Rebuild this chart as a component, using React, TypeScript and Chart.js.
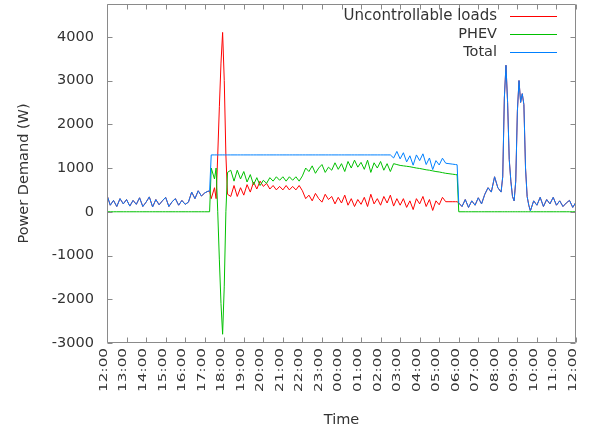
import React, { useEffect, useRef } from "react";
import { Chart, registerables } from "chart.js";

Chart.register(...registerables);

const FONT = "DejaVu Sans";
const TEXT_COLOR = "#333333";
const FRAME_COLOR = "#8a8a8a";

// Sample times (12:00 one day to 12:00 the next)
const sampleTimes: string[] = [
  "12:00", "12:10", "12:20", "12:30", "12:40", "12:50",
  "13:00", "13:10", "13:20", "13:30", "13:40", "13:50",
  "14:00", "14:10", "14:20", "14:30", "14:40", "14:50",
  "15:00", "15:10", "15:20", "15:30", "15:40", "15:50",
  "16:00", "16:10", "16:20", "16:30", "16:40", "16:50",
  "17:00", "17:10", "17:15", "17:20", "17:30", "17:35", "17:40", "17:45", "17:50", "17:55",
  "18:00", "18:05", "18:10", "18:20", "18:30", "18:40", "18:50",
  "19:00", "19:10", "19:20", "19:30", "19:40", "19:50",
  "20:00", "20:10", "20:20", "20:30", "20:40", "20:50",
  "21:00", "21:10", "21:20", "21:30", "21:40", "21:50",
  "22:00", "22:10", "22:20", "22:30", "22:40", "22:50",
  "23:00", "23:10", "23:20", "23:30", "23:40", "23:50",
  "00:00", "00:10", "00:20", "00:30", "00:40", "00:50",
  "01:00", "01:10", "01:20", "01:30", "01:40", "01:50",
  "02:00", "02:10", "02:20", "02:30", "02:40", "02:50",
  "03:00", "03:10", "03:20", "03:30", "03:40", "03:50",
  "04:00", "04:10", "04:20", "04:30", "04:40", "04:50",
  "05:00", "05:10", "05:20", "05:30", "05:40", "05:50", "05:55",
  "06:00", "06:10", "06:20", "06:30", "06:40", "06:50",
  "07:00", "07:10", "07:20", "07:30", "07:40", "07:50",
  "08:00", "08:10", "08:15", "08:20", "08:25", "08:30", "08:35", "08:40", "08:45", "08:50", "08:55",
  "09:00", "09:05", "09:10", "09:15", "09:20", "09:25", "09:30", "09:35", "09:40", "09:50",
  "10:00", "10:10", "10:20", "10:30", "10:40", "10:50",
  "11:00", "11:10", "11:20", "11:30", "11:40", "11:50",
  "12:00",
];

// Uncontrollable loads (W)
const uncontrollableLoads: number[] = [
  380, 150, 260, 120, 300, 180,
  280, 130, 260, 170, 320, 120,
  220, 340, 110, 280, 160, 250,
  330, 120, 230, 300, 150, 260,
  170, 220, 450, 300, 480, 360,
  430, 470, 470, 300, 550, 300, 1300, 2400, 3400, 4100,
  3000, 1300, 400, 350, 600, 350, 550,
  380, 620, 450, 680, 520, 700,
  580, 650, 520, 600, 500, 580,
  500, 600, 500, 580, 500, 600,
  480, 300, 380, 250, 420, 300,
  220, 400, 280, 350, 180, 330,
  200, 380, 150, 300, 120, 280,
  170, 330, 120, 400, 180, 300,
  150, 350, 200, 380, 130, 300,
  150, 300, 100, 250, 50, 300,
  180, 350, 120, 280, 30, 250,
  160, 330, 230, 230, 230, 230, 230,
  200, 120, 280, 100, 250, 150,
  320, 180, 400, 550, 450, 800,
  550, 450, 800, 2600, 3350, 2500, 1200, 700, 350, 250, 700,
  2300, 3000, 2500, 2700, 2450, 1000, 350, 150, 20, 250,
  150, 330, 120, 280, 180, 330,
  150, 250, 120, 200, 260, 100,
  220,
];

// PHEV charging demand (W)
const phevDemand: number[] = [
  0, 0, 0, 0, 0, 0,
  0, 0, 0, 0, 0, 0,
  0, 0, 0, 0, 0, 0,
  0, 0, 0, 0, 0, 0,
  0, 0, 0, 0, 0, 0,
  0, 0, 0, 1000, 750, 1000, 0, -1100, -2100, -2800,
  -1700, 0, 900, 950, 700, 950, 750,
  920, 680, 850, 620, 780, 600,
  720, 650, 780, 700, 800, 720,
  800, 700, 800, 720, 800, 700,
  820, 1000, 920, 1050, 880, 1000,
  1080, 900, 1020, 950, 1120, 970,
  1100, 920, 1150, 1000, 1180, 1020,
  1130, 970, 1180, 900, 1120, 1000,
  1150, 950, 1100, 920, 1100, 1080,
  1060, 1050, 1040, 1030, 1015, 1000,
  990, 975, 960, 950, 935, 920,
  910, 895, 880, 870, 860, 850, 845,
  0, 0, 0, 0, 0, 0,
  0, 0, 0, 0, 0, 0,
  0, 0, 0, 0, 0, 0, 0, 0, 0, 0, 0,
  0, 0, 0, 0, 0, 0, 0, 0, 0, 0,
  0, 0, 0, 0, 0, 0,
  0, 0, 0, 0, 0, 0,
  0,
];

// Total demand (W)
const totalDemand: number[] = [
  380, 150, 260, 120, 300, 180,
  280, 130, 260, 170, 320, 120,
  220, 340, 110, 280, 160, 250,
  330, 120, 230, 300, 150, 260,
  170, 220, 450, 300, 480, 360,
  430, 470, 470, 1300, 1300, 1300, 1300, 1300, 1300, 1300,
  1300, 1300, 1300, 1300, 1300, 1300, 1300,
  1300, 1300, 1300, 1300, 1300, 1300,
  1300, 1300, 1300, 1300, 1300, 1300,
  1300, 1300, 1300, 1300, 1300, 1300,
  1300, 1300, 1300, 1300, 1300, 1300,
  1300, 1300, 1300, 1300, 1300, 1300,
  1300, 1300, 1300, 1300, 1300, 1300,
  1300, 1300, 1300, 1300, 1300, 1300,
  1300, 1300, 1300, 1300, 1230, 1380,
  1210, 1350, 1140, 1280, 1065, 1300,
  1170, 1325, 1080, 1230, 965, 1170,
  1070, 1225, 1110, 1100, 1090, 1080, 1075,
  200, 120, 280, 100, 250, 150,
  320, 180, 400, 550, 450, 800,
  550, 450, 800, 2600, 3350, 2500, 1200, 700, 350, 250, 700,
  2300, 3000, 2500, 2700, 2450, 1000, 350, 150, 20, 250,
  150, 330, 120, 280, 180, 330,
  150, 250, 120, 200, 260, 100,
  220,
];

const xTickLabels: string[] = [
  "12:00", "13:00", "14:00", "15:00", "16:00", "17:00", "18:00", "19:00",
  "20:00", "21:00", "22:00", "23:00", "00:00", "01:00", "02:00", "03:00",
  "04:00", "05:00", "06:00", "07:00", "08:00", "09:00", "10:00", "11:00", "12:00",
];
const yTickValues: number[] = [-3000, -2000, -1000, 0, 1000, 2000, 3000, 4000];
const seriesNames: string[] = ["Uncontrollable loads", "PHEV", "Total"];
const seriesColors: string[] = ["#ff0000", "#00c000", "#0080ff"];

function toHours(times: string[]): number[] {
  const out: number[] = [];
  let prev = -1;
  for (const t of times) {
    const [hh, mm] = t.split(":").map(Number);
    let h = (hh * 60 + mm - 720) / 60;
    if (h < 0) h += 24;
    if (h < prev) h += 24;
    out.push(h);
    prev = h;
  }
  return out;
}

const gnuplotPlugin = {
  id: "gnuplotFrame",
  afterDatasetsDraw(chart: any) {
    const { ctx, chartArea: a, scales } = chart;
    const xs = scales.x;
    const ys = scales.y;
    const L = Math.round(a.left) + 0.5;
    const R = Math.round(a.right) - 0.5;
    const T = Math.round(a.top) + 0.5;
    const B = Math.round(a.bottom) - 0.5;
    ctx.save();
    ctx.strokeStyle = FRAME_COLOR;
    ctx.lineWidth = 1;
    ctx.beginPath();
    ctx.rect(L, T, R - L, B - T);
    const tl = 5;
    yTickValues.forEach((v) => {
      const py = Math.round(ys.getPixelForValue(v)) + 0.5;
      ctx.moveTo(L, py);
      ctx.lineTo(L + tl, py);
      ctx.moveTo(R, py);
      ctx.lineTo(R - tl, py);
    });
    xTickLabels.forEach((_, i) => {
      const px = Math.round(xs.getPixelForValue(i)) + 0.5;
      ctx.moveTo(px, B);
      ctx.lineTo(px, B - tl);
      ctx.moveTo(px, T);
      ctx.lineTo(px, T + tl);
    });
    ctx.stroke();
    ctx.restore();
  },
  afterDraw(chart: any) {
    const { ctx, chartArea: a, scales } = chart;
    const xs = scales.x;
    ctx.save();
    // rotated x tick labels
    ctx.fillStyle = TEXT_COLOR;
    ctx.font = `14.5px "${FONT}"`;
    ctx.textAlign = "right";
    ctx.textBaseline = "middle";
    xTickLabels.forEach((lab, i) => {
      const px = xs.getPixelForValue(i) - 3;
      ctx.save();
      ctx.translate(px, a.bottom + 5);
      ctx.rotate(-Math.PI / 2);
      ctx.scale(1.05, 0.78);
      ctx.fillText(lab, 0, 0);
      ctx.restore();
    });
    // legend
    const textRight = 497;
    const lineX0 = 510;
    const lineX1 = 557;
    const rows = [16, 34, 52];
    seriesNames.forEach((name, i) => {
      ctx.fillStyle = TEXT_COLOR;
      ctx.font = `${i === 0 ? 15 : 14.5}px "${FONT}"`;
      ctx.textAlign = "right";
      ctx.textBaseline = "middle";
      ctx.fillText(name, textRight, rows[i]);
      ctx.strokeStyle = seriesColors[i];
      ctx.lineWidth = 1;
      ctx.beginPath();
      ctx.moveTo(lineX0, rows[i] + 0.5);
      ctx.lineTo(lineX1, rows[i] + 0.5);
      ctx.stroke();
    });
    ctx.restore();
  },
};

export default function App() {
  const canvasRef = useRef<HTMLCanvasElement | null>(null);

  useEffect(() => {
    const canvas = canvasRef.current;
    if (!canvas) return;
    const hours = toHours(sampleTimes);
    const series = [uncontrollableLoads, phevDemand, totalDemand];
    const chart = new Chart(canvas, {
      type: "line",
      data: {
        datasets: series.map((arr, k) => ({
          label: seriesNames[k],
          data: hours.map((h, i) => ({ x: h, y: arr[i] })),
          borderColor: seriesColors[k],
          backgroundColor: seriesColors[k],
          borderWidth: 1,
          pointRadius: 0,
          tension: 0,
          fill: false,
          order: 3 - k,
        })),
      },
      options: {
        responsive: false,
        animation: false,
        devicePixelRatio: 1,
        layout: { padding: { top: 4, right: 13, left: 0, bottom: 0 } },
        plugins: {
          legend: { display: false },
          tooltip: { enabled: false },
        },
        scales: {
          x: {
            type: "linear",
            min: 0,
            max: 24,
            grid: { display: false },
            border: { display: false },
            ticks: { display: false },
            title: {
              display: true,
              text: "Time",
              color: TEXT_COLOR,
              font: { family: FONT, size: 14.5 },
              padding: { top: 0, bottom: 6 },
            },
            afterFit: (scale: any) => {
              scale.height = 92;
              scale.paddingLeft = 0;
              scale.paddingRight = 0;
            },
          },
          y: {
            type: "linear",
            min: -3000,
            max: 4750,
            grid: { display: false, drawTicks: false },
            border: { display: false },
            afterBuildTicks: (scale: any) => {
              scale.ticks = yTickValues.map((v) => ({ value: v }));
            },
            ticks: {
              color: TEXT_COLOR,
              font: { family: FONT, size: 14.5 },
              padding: 13,
              callback: (v: any) => String(v),
            },
            title: {
              display: true,
              text: "Power Demand (W)",
              color: TEXT_COLOR,
              font: { family: FONT, size: 14.5 },
              padding: { top: 16, bottom: 0 },
            },
            afterFit: (scale: any) => {
              scale.width = 107;
              scale.paddingTop = 0;
              scale.paddingBottom = 0;
            },
          },
        },
      },
      plugins: [gnuplotPlugin],
    });
    return () => chart.destroy();
  }, []);

  return (
    <div style={{ position: "absolute", left: 0, top: 0, width: 589, height: 435, background: "#fff" }}>
      <canvas ref={canvasRef} width={589} height={435} style={{ width: 589, height: 435 }} />
    </div>
  );
}
